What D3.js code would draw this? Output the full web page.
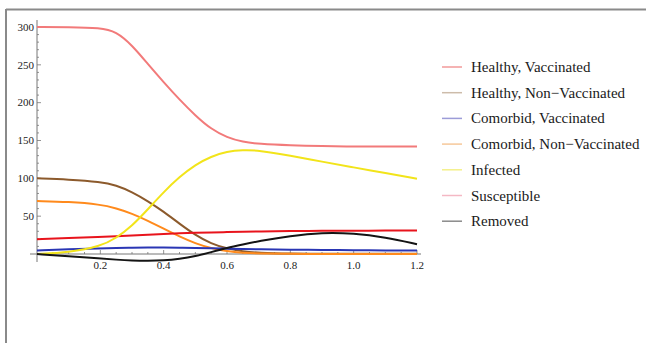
<!DOCTYPE html>
<html><head><meta charset="utf-8">
<script src="https://cdn.jsdelivr.net/npm/d3@7"></script>
<style>body{margin:0;background:#fff}svg{display:block}</style>
</head><body>
<svg id="c" width="646" height="343"></svg>
<script>
const t = [0, 0.1, 0.2, 0.25, 0.3, 0.35, 0.4, 0.45, 0.5, 0.55, 0.6, 0.65, 0.7, 0.8, 0.9, 1.0, 1.1, 1.2];
const healthyVacc    = [300, 300, 299, 294, 276, 251, 227, 204, 183, 165, 154, 148, 145.5, 143.5, 142.5, 142, 142, 142];
const healthyNonVacc = [100, 98.5, 95.5, 91, 82, 70, 56, 40, 25, 13.5, 7, 3.5, 1.5, 0.5, 0.3, 0.2, 0.2, 0.2];
const comorbidVacc   = [4.5, 6.3, 7.5, 8, 8.3, 8.5, 8.5, 8.3, 8, 7.5, 7, 6.6, 6.2, 5.7, 5.3, 5, 4.7, 4.5];
const comorbidNonVacc= [70, 69, 65.5, 60.5, 53.5, 44, 33.5, 23, 14, 7.5, 3.5, 1.5, 0.7, 0.2, 0.1, 0.1, 0.1, 0.1];
const infected       = [0, 2, 10, 21, 37, 59, 82, 102, 118, 129, 135.5, 137.5, 137, 130, 122, 114.5, 107, 99.5];
const susceptible    = [19.5, 21, 22.5, 23.5, 24.5, 25.5, 26.5, 27.3, 28, 28.5, 29, 29.4, 29.8, 30.3, 30.6, 30.8, 31, 31];
const removed        = [0, -3, -6, -7.5, -8.6, -9, -8.5, -6.5, -3, 2.5, 8, 12.5, 17, 24, 28.5, 27.5, 22, 13];
const seriesNames = ["Healthy, Vaccinated", "Healthy, Non\u2212Vaccinated", "Comorbid, Vaccinated", "Comorbid, Non\u2212Vaccinated", "Infected", "Susceptible", "Removed"];
const yTickLabels = [50, 100, 150, 200, 250, 300];
const xTickLabels = [0.2, 0.4, 0.6, 0.8, 1.0, 1.2];

const seriesValues = [healthyVacc, healthyNonVacc, comorbidVacc, comorbidNonVacc, infected, susceptible, removed];
const lineColors = ["#f27a7a", "#8c5a2c", "#2a36b4", "#ff8a1c", "#f2e41a", "#e8141c", "#141414"];
const swatchColors = ["#f29a9a", "#cdbcaa", "#9c9cd8", "#f6c89a", "#f4f08a", "#f4b8c4", "#8a8a8a"];

const svg = d3.select("#c");
const x = d3.scaleLinear().domain([0, 1.2]).range([37, 417]);
const y = d3.scaleLinear().domain([0, 300]).range([254, 27]);

// frame
svg.append("line").attr("x1", 6).attr("x2", 646).attr("y1", 9.5).attr("y2", 9.5).attr("stroke", "#8a8a8a").attr("stroke-width", 2);
svg.append("line").attr("x1", 6).attr("x2", 6).attr("y1", 9).attr("y2", 343).attr("stroke", "#8a8a8a").attr("stroke-width", 2);

const font = "'Liberation Serif','Times New Roman',serif";
const axisCol = "#777";

// y axis
const yAxis = svg.append("g");
yAxis.append("line").attr("x1", 37).attr("x2", 37).attr("y1", 20).attr("y2", 262).attr("stroke", axisCol).attr("stroke-width", 1);
d3.range(10, 301, 10).forEach(v => {
  const major = v % 50 === 0;
  yAxis.append("line").attr("x1", 37).attr("x2", 37 + (major ? 4 : 2)).attr("y1", y(v)).attr("y2", y(v)).attr("stroke", axisCol).attr("stroke-width", 0.8);
});
yAxis.selectAll("text").data(yTickLabels).join("text")
  .attr("x", 34).attr("y", d => y(d) + 3.8).attr("text-anchor", "end")
  .attr("font-family", font).attr("font-size", 11).attr("fill", "#222").text(d => d);

// x axis
const xAxis = svg.append("g");
xAxis.append("line").attr("x1", 30).attr("x2", 421).attr("y1", 254).attr("y2", 254).attr("stroke", axisCol).attr("stroke-width", 1);
d3.range(1, 25).forEach(i => {
  const v = i * 0.05;
  const major = i % 4 === 0;
  xAxis.append("line").attr("x1", x(v)).attr("x2", x(v)).attr("y1", 254).attr("y2", 254 - (major ? 4 : 2)).attr("stroke", axisCol).attr("stroke-width", 0.8);
});
xAxis.selectAll("text").data(xTickLabels).join("text")
  .attr("x", d => x(d)).attr("y", 269).attr("text-anchor", "middle")
  .attr("font-family", font).attr("font-size", 11).attr("fill", "#222").text(d => d.toFixed(1));

// lines
const line = d3.line().x(d => x(d[0])).y(d => y(d[1])).curve(d3.curveBasis);
const order = [0, 1, 3, 2, 5, 4, 6];
order.forEach(i => {
  svg.append("path").datum(t.map((tv, k) => [tv, seriesValues[i][k]]))
    .attr("d", line).attr("fill", "none").attr("stroke", lineColors[i]).attr("stroke-width", 2);
});

// legend
const lg = svg.append("g");
seriesNames.forEach((name, i) => {
  const cy = 67 + i * 25.7;
  lg.append("line").attr("x1", 442).attr("x2", 462).attr("y1", cy).attr("y2", cy).attr("stroke", swatchColors[i]).attr("stroke-width", 1.5);
  lg.append("text").attr("x", 471).attr("y", cy + 5).attr("font-family", font).attr("font-size", 15).attr("fill", "#1a1a1a").text(name);
});
</script>
</body></html>
